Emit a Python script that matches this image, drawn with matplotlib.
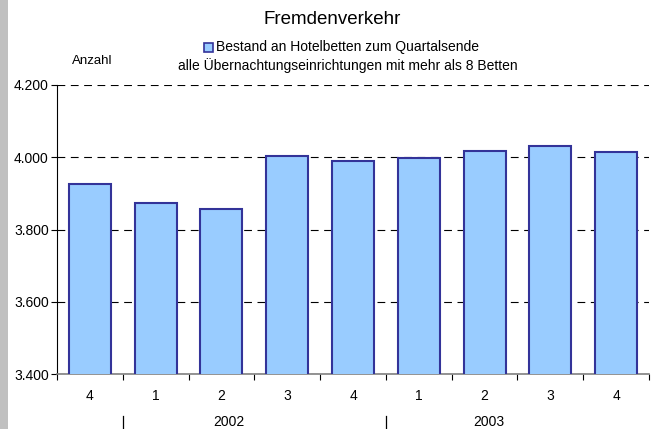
"""Fremdenverkehr: Bestand an Hotelbetten zum Quartalsende."""

import matplotlib.pyplot as plt
from matplotlib.patches import Rectangle
from matplotlib.ticker import FuncFormatter

plt.rcParams["font.family"] = ["Liberation Sans", "DejaVu Sans"]

quarters = ["4", "1", "2", "3", "4", "1", "2", "3", "4"]
beds = [3926, 3874, 3856, 4004, 3990, 3997, 4018, 4032, 4015]
years = ["2002", "2003"]
year_label_pos = [2.11, 6.07]
year_separators = [0.5, 4.5]

BAR_FACE = "#99ccff"
BAR_EDGE = "#333399"


def german_thousands(value, _pos):
    return f"{value:,.0f}".replace(",", ".")


fig = plt.figure(figsize=(6.64, 4.29), dpi=100)
fig.patches.append(Rectangle((0, 0), 8 / 664, 1, transform=fig.transFigure,
                             facecolor="#c0c0c0", edgecolor="none"))
ax = fig.add_axes([57 / 664, 1 - 374 / 429, (649 - 57) / 664, (374 - 85) / 429])

x = range(len(beds))
ax.bar(x, beds, width=0.64, bottom=0, color=BAR_FACE, edgecolor=BAR_EDGE,
       linewidth=1.5, zorder=3)

ax.set_xlim(-0.5, len(beds) - 0.5)
ax.set_ylim(3400, 4200)
ax.set_yticks([3400, 3600, 3800, 4000, 4200])
ax.yaxis.set_major_formatter(FuncFormatter(german_thousands))
ax.grid(True, axis="y", color="black", linewidth=0.8, linestyle=(0, (7, 5)), zorder=1)
ax.set_axisbelow(True)

# quarter labels sit between the boundary ticks
ax.set_xticks([i + 0.5 for i in range(-1, len(beds))])
ax.set_xticklabels([])
ax.set_xticks(list(x), minor=True)
ax.set_xticklabels(quarters, minor=True)
ax.tick_params(axis="x", which="major", length=4, width=0.8, color="black")
ax.tick_params(axis="x", which="minor", length=0, pad=11, labelsize=10)
ax.tick_params(axis="y", length=4, width=0.8, labelsize=10, pad=2)

for side in ["top", "right"]:
    ax.spines[side].set_visible(False)
ax.spines["left"].set_color("black")
ax.spines["left"].set_linewidth(0.8)
ax.spines["bottom"].set_color("#808080")
ax.spines["bottom"].set_linewidth(1.2)

trans = ax.get_xaxis_transform()
for pos, label in zip(year_label_pos, years):
    ax.text(pos, -0.165, label, transform=trans, ha="center", va="center", fontsize=10)
for pos in year_separators:
    ax.plot([pos, pos], [-0.145, -0.187], transform=trans, color="black",
            linewidth=0.9, clip_on=False)

fig.text(0.5, 1 - 20 / 429, "Fremdenverkehr", ha="center", va="center", fontsize=13.5)
fig.patches.append(Rectangle((204 / 664, 1 - 52 / 429), 8.5 / 664, 8.5 / 429,
                             transform=fig.transFigure, facecolor=BAR_FACE,
                             edgecolor=BAR_EDGE, linewidth=1.2))
fig.text(216 / 664, 1 - 47 / 429, "Bestand an Hotelbetten zum Quartalsende",
         ha="left", va="center", fontsize=10)
fig.text(348 / 664, 1 - 66 / 429, "alle Übernachtungseinrichtungen mit mehr als 8 Betten",
         ha="center", va="center", fontsize=10)
fig.text(92.7 / 664, 1 - 61 / 429, "Anzahl", ha="center", va="center", fontsize=9.5)

fig.savefig("out.png", dpi=100)
